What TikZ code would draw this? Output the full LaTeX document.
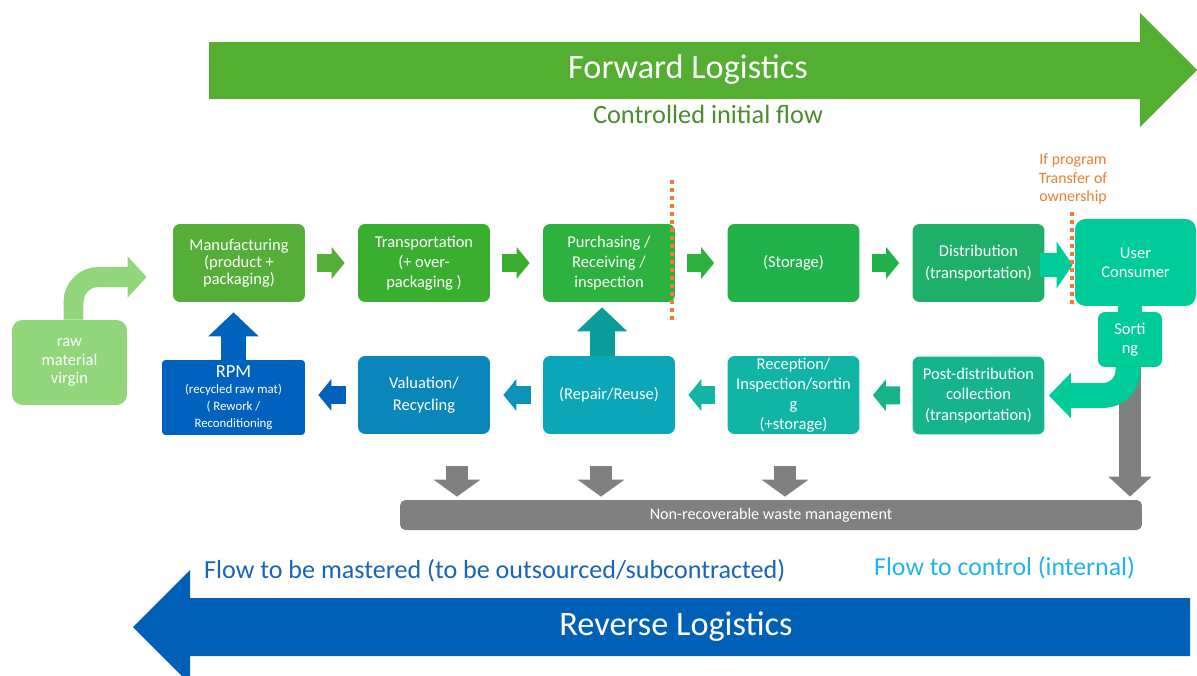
\documentclass[tikz,border=0pt]{standalone}
\usepackage{fontspec}
\setmainfont{Carlito}
\usetikzlibrary{arrows.meta,calc}

\definecolor{fwdgreen}{RGB}{83,174,50}
\definecolor{revblue}{RGB}{0,96,184}
\definecolor{rawgreen}{RGB}{146,214,124}
\definecolor{mfgcol}{RGB}{85,174,55}
\definecolor{transcol}{RGB}{58,175,47}
\definecolor{purchcol}{RGB}{45,177,63}
\definecolor{storcol}{RGB}{34,178,75}
\definecolor{distcol}{RGB}{30,176,104}
\definecolor{usercol}{RGB}{0,204,153}
\definecolor{postcol}{RGB}{22,180,140}
\definecolor{recepcol}{RGB}{16,181,165}
\definecolor{repaircol}{RGB}{11,166,183}
\definecolor{repairup}{RGB}{10,155,155}
\definecolor{valucol}{RGB}{11,134,186}
\definecolor{rpmcol}{RGB}{0,98,190}
\definecolor{wastegray}{RGB}{128,128,128}
\definecolor{ownerorange}{RGB}{237,125,49}
\definecolor{masterblue}{RGB}{24,100,184}
\definecolor{controlblue}{RGB}{30,180,234}
\definecolor{ctrlgreen}{RGB}{76,140,44}

\begin{document}
\begin{tikzpicture}[x=0.02cm,y=-0.02cm,
    box/.style={rectangle,rounded corners=4pt,inner sep=0pt,minimum width=2.64cm,
        minimum height=1.56cm,text=white,align=center,font=\fontsize{9.4}{11.5}\selectfont},
    flow/.style={line width=0.36cm,-{Triangle[length=0.26cm,width=0.62cm]},
        shorten <=0.24cm,shorten >=0.26cm},
    upflow/.style={line width=0.5cm,-{Triangle[length=0.48cm,width=0.98cm]}},
    sink/.style={line width=0.44cm,wastegray,-{Triangle[length=0.34cm,width=0.92cm]}},
    sep/.style={ownerorange,line width=0.08cm,dash pattern=on 0.08cm off 0.08cm}]
    \useasboundingbox (0,0) rectangle (1197,676);

    % Forward Logistics (big arrow)
    \fill[fwdgreen] (209,42) -- (1140,42) -- (1140,13) -- (1197,70) -- (1140,127)
        -- (1140,99) -- (209,99) -- cycle;
    \node[text=white,font=\fontsize{19.5}{22}\selectfont] (fwd) at (688,70) {Forward Logistics};
    \node[text=ctrlgreen,font=\fontsize{15}{18}\selectfont] (ctrl) at (708,114) {Controlled initial flow};

    % Reverse Logistics (big arrow)
    \fill[revblue] (1190,598) -- (190,598) -- (190,570) -- (133,627) -- (190,684)
        -- (190,656) -- (1190,656) -- cycle;
    \node[text=white,font=\fontsize{19.5}{22}\selectfont] (rev) at (676,627) {Reverse Logistics};
    \node[anchor=west,text=masterblue,font=\fontsize{14.85}{17}\selectfont] (master) at (198,571)
        {Flow to be mastered (to be outsourced/subcontracted)};
    \node[anchor=west,text=controlblue,font=\fontsize{14.7}{17}\selectfont] (control) at (868,568)
        {Flow to control (internal)};

    % forward chain
    \node[box,fill=rawgreen,rounded corners=6pt,minimum width=2.3cm,minimum height=1.7cm,
        font=\fontsize{9.4}{10.5}\selectfont] (raw) at (69.5,362.5) {raw\\material\\virgin};
    \node[box,fill=mfgcol,font=\fontsize{9.4}{9.8}\selectfont] (mfg) at (239,263)
        {Manufacturing\\(product +\\packaging)};
    \node[box,fill=transcol] (trans) at (424,263) {Transportation\\(+ over-\\packaging )};
    \node[box,fill=purchcol] (purch) at (609,263) {Purchasing /\\Receiving /\\inspection};
    \node[box,fill=storcol] (stor) at (793.5,263) {(Storage)};
    \node[box,fill=distcol,font=\fontsize{9.4}{12.5}\selectfont] (dist) at (978.5,263)
        {Distribution\\(transportation)};
    \node[box,fill=usercol,rounded corners=6pt,minimum width=2.42cm,minimum height=1.74cm,
        font=\fontsize{9.4}{10.8}\selectfont] (user) at (1135.5,262.5) {User\\Consumer};
    \node[box,fill=usercol,minimum width=1.28cm,minimum height=1.1cm,
        font=\fontsize{9.4}{10.8}\selectfont] (sort) at (1130,339.5) {Sorti\\ng};

    % reverse chain
    \node[box,fill=postcol,font=\fontsize{9.4}{11.8}\selectfont] (post) at (978.5,395.5)
        {Post-distribution\\collection\\(transportation)};
    \node[box,fill=recepcol] (recep) at (793.5,395)
        {Reception/\\Inspection/sortin\\g\\(+storage)};
    \node[box,fill=repaircol] (repair) at (609,395) {(Repair/Reuse)};
    \node[box,fill=valucol,font=\fontsize{9.4}{12.5}\selectfont] (valu) at (424,395)
        {Valuation/\\Recycling};
    \node[box,fill=rpmcol,rounded corners=2pt,minimum width=2.86cm,minimum height=1.5cm,
        font=\fontsize{7.3}{9.6}\selectfont] (rpm) at (233.5,397.5)
        {{\fontsize{10.5}{12}\selectfont RPM}\\(recycled raw mat)\\( Rework /\\Reconditioning};

    % waste
    \node[rectangle,rounded corners=3pt,fill=wastegray,text=white,minimum width=14.84cm,
        minimum height=0.6cm,inner sep=0pt,font=\fontsize{9.2}{11}\selectfont] (waste) at (771,515)
        {Non-recoverable waste management};

    % arrows between boxes
    \draw[line width=0.4cm,rawgreen,rounded corners=0.5cm,-{Triangle[length=0.38cm,width=0.8cm]}]
        ($(raw.north)+(4,0)$) |- ($(mfg.west)+(-26,14)$);
    \draw[flow,mfgcol] (mfg) -- (trans);
    \draw[flow,transcol] (trans) -- (purch);
    \draw[flow,purchcol] (purch) -- (stor);
    \draw[flow,storcol] (stor) -- (dist);
    \draw[line width=0.48cm,usercol,-{Triangle[length=0.32cm,width=0.92cm]}]
        ($(dist.east)+(-5,2)$) -- ($(dist.east -| user.west)+(-2,2)$);
    \draw[line width=0.48cm,usercol] ($(user.south -| sort.north)+(0,-2)$) -- ($(sort.north)+(0,2)$);

    \draw[flow,postcol] (post) -- (recep);
    \draw[flow,recepcol] (recep) -- (repair);
    \draw[flow,valucol!60!repaircol] (repair) -- (valu);
    \draw[flow,rpmcol] (valu.west) -- (valu.west -| rpm.east);
    \draw[upflow,rpmcol] (rpm.north) -- ($(rpm.north |- mfg.south)+(0,10)$);
    \draw[upflow,repairup] ($(repair.north)+(-7,0)$) -- ($(repair.north |- purch.south)+(-7,5)$);

    % to waste management
    \coordinate (w1) at (457,466);
    \coordinate (w2) at (601,466);
    \coordinate (w3) at (785,466);
    \foreach \w in {w1,w2,w3}
        \draw[sink,shorten >=0.06cm] (\w) -- (\w |- waste.north);
    \draw[sink,-{Triangle[length=0.4cm,width=0.84cm]},shorten >=0.06cm]
        (sort.south) -- (sort.south |- waste.north);
    \draw[line width=0.5cm,usercol,rounded corners=0.5cm,-{Triangle[length=0.44cm,width=0.88cm]}]
        ($(sort.south)+(-2,-3)$) |- ($(post.east)+(4,0)$);

    % transfer of ownership
    \node[align=center,text=ownerorange,font=\fontsize{9}{10.5}\selectfont] (owner) at (1073,179)
        {If program\\Transfer of\\ownership};
    \draw[sep] (672,180) -- (672,322);
    \draw[sep] (1072,212) -- (1072,305);
\end{tikzpicture}
\end{document}
